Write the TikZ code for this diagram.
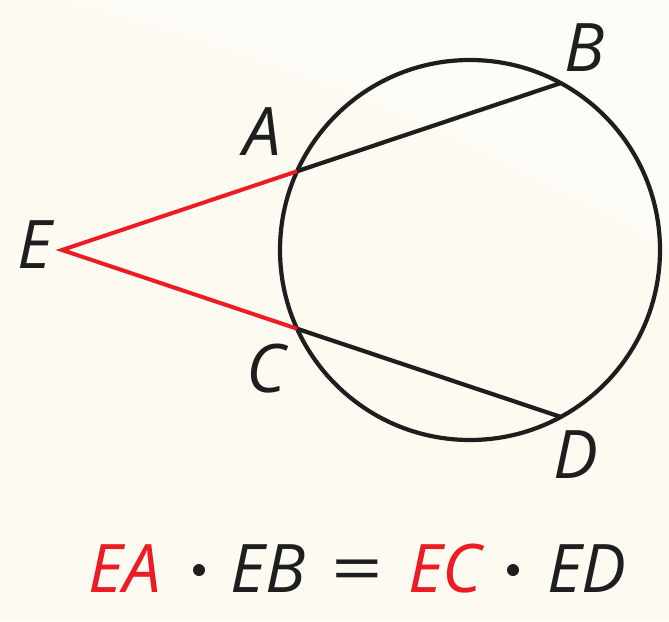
\documentclass[tikz,border=0pt]{standalone}
\usepackage{fontspec}
\setmainfont{Open Sans}
\definecolor{bgcream}{HTML}{FCFAF1}
\definecolor{bglight}{HTML}{FDFCF7}
\definecolor{segred}{HTML}{EC1C24}
\definecolor{ink}{HTML}{1E1E1E}
\tikzset{
  lbl/.style={font=\fontsize{67}{72}\selectfont\itshape, text=ink, inner sep=0pt},
  eqpart/.style={lbl, anchor=base},
  dotsym/.style={circle, fill=ink, minimum size=12pt, inner sep=0pt},
  chord/.style={draw=ink, line width=4.2pt},
  redseg/.style={draw=segred, line width=4pt, line join=miter},
}
\begin{document}
\begin{tikzpicture}[x=1pt,y=-1pt]
\useasboundingbox (0,0) rectangle (669,621);
\fill[bgcream] (0,0) rectangle (669,621);
\fill[bglight] (62,0) .. controls (300,60) and (500,150) .. (669,250) -- (669,0) -- cycle;
% points
\coordinate (O) at (470,250);
\coordinate (E) at (62,250);
\coordinate (A) at (297,171.3);
\coordinate (B) at (560.7,83.1);
\coordinate (C) at (297,328.7);
\coordinate (D) at (560.7,416.9);
% circle
\draw[chord] (O) circle[radius=190];
% chords
\draw[chord] (A) -- (B);
\draw[chord] (C) -- (D);
% red segments
\draw[redseg] (A) -- (E) -- (C);
% labels
\node[lbl] (lB) at (585,48) {B};
\node[lbl] (lA) at (262,132) {A};
\node[lbl] (lE) at (35,245) {E};
\node[lbl] (lC) at (266,369) {C};
\node[lbl] (lD) at (576,455) {D};
% equation
\node[eqpart, text=segred] (eqEA) at (125,592) {EA};
\node[dotsym] (dot1) at (199,570) {};
\node[eqpart] (eqEB) at (268,592) {EB};
\node[eqpart, font=\fontsize{67}{72}\selectfont\upshape, xscale=1.35] (eqeq) at (357,592) {=};
\node[eqpart, text=segred] (eqEC) at (445,592) {EC};
\node[dotsym] (dot2) at (513,570) {};
\node[eqpart] (eqED) at (587,592) {ED};
\end{tikzpicture}
\end{document}
